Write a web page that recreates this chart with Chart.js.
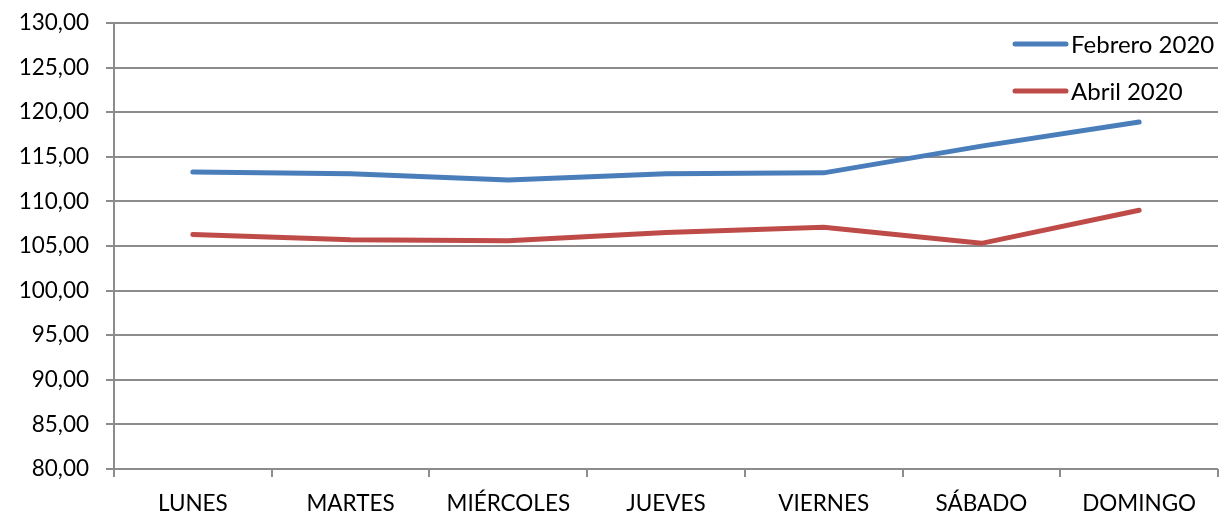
<!DOCTYPE html>
<html>
<head>
<meta charset="utf-8">
<script src="https://cdn.jsdelivr.net/npm/chart.js@4/dist/chart.umd.min.js"></script>
<style>
  html, body { margin: 0; padding: 0; background: #fff; }
  #wrap { width: 1219px; height: 513px; position: relative; }
</style>
</head>
<body>
<div id="wrap"><canvas id="chart"></canvas></div>
<script>
// data
var dias = ['LUNES', 'MARTES', 'MIÉRCOLES', 'JUEVES', 'VIERNES', 'SÁBADO', 'DOMINGO'];
var febrero = [113.3, 113.1, 112.4, 113.1, 113.2, 116.2, 118.9];
var abril = [106.3, 105.7, 105.6, 106.5, 107.1, 105.3, 109.0];
var yTicks = { min: 80, max: 130, step: 5 };

var FONT = 'Lato, "Open Sans", sans-serif';
var gridColor = '#8c8c8c';

// legend drawn inside the plot, top right
var insideLegend = {
    id: 'insideLegend',
    afterDraw: function(chart) {
        var ctx = chart.ctx;
        var rows = [44, 91];
        ctx.save();
        chart.data.datasets.forEach(function(ds, i) {
            var y = rows[i];
            ctx.strokeStyle = ds.borderColor;
            ctx.lineWidth = 5;
            ctx.lineCap = 'round';
            ctx.beginPath();
            ctx.moveTo(1015, y);
            ctx.lineTo(1066, y);
            ctx.stroke();
            ctx.fillStyle = '#000';
            ctx.font = '24px ' + FONT;
            ctx.textBaseline = 'middle';
            ctx.textAlign = 'left';
            ctx.fillText(ds.label, 1071, y + 1);
        });
        ctx.restore();
    }
};

var ctx = document.getElementById('chart').getContext('2d');
var chart = new Chart(ctx, {
    type: 'line',
    data: {
        labels: dias,
        datasets: [
            {
                label: 'Febrero 2020',
                data: febrero,
                borderColor: '#4a7ebb',
                borderWidth: 5,
                pointRadius: 0,
                tension: 0,
                borderCapStyle: 'round'
            },
            {
                label: 'Abril 2020',
                data: abril,
                borderColor: '#be4b48',
                borderWidth: 5,
                pointRadius: 0,
                tension: 0,
                borderCapStyle: 'round'
            }
        ]
    },
    options: {
        responsive: true,
        maintainAspectRatio: false,
        animation: false,
        layout: { padding: { top: 23, right: 1, left: 0, bottom: 0 } },
        plugins: {
            legend: { display: false },
            tooltip: { enabled: false }
        },
        scales: {
            x: {
                offset: true,
                grid: {
                    offset: true,
                    drawOnChartArea: false,
                    color: gridColor,
                    lineWidth: 2,
                    tickLength: 8
                },
                border: { display: false },
                ticks: {
                    color: '#000',
                    font: { family: FONT, size: 22.5 },
                    padding: 13,
                    maxRotation: 0,
                    autoSkip: false
                },
                afterFit: function(scale) { scale.height = 44; }
            },
            y: {
                min: yTicks.min,
                max: yTicks.max,
                grid: {
                    color: gridColor,
                    lineWidth: 2,
                    tickLength: 8
                },
                border: { color: gridColor, width: 2 },
                ticks: {
                    stepSize: yTicks.step,
                    color: '#000',
                    font: { family: FONT, size: 22.5 },
                    padding: 17,
                    callback: function(v) { return v.toFixed(2).replace('.', ','); }
                },
                afterFit: function(scale) {
                    scale.width = 114;
                    scale.paddingTop = 0;
                    scale.paddingBottom = 0;
                }
            }
        }
    },
    plugins: [insideLegend]
});
</script>
</body>
</html>
